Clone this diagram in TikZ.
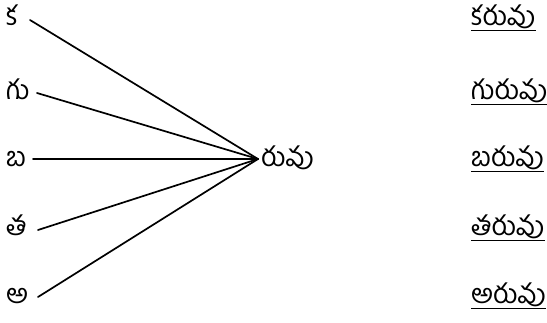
\documentclass[tikz,border=0pt]{standalone}
\usepackage{fontspec}
\newfontfamily\telugu[Script=Telugu]{Hind Guntur}
\begin{document}
\begin{tikzpicture}[x=1pt,y=-1pt,
  lab/.style={font=\telugu\fontsize{27}{30}\selectfont, inner sep=0pt, anchor=base west},
  conn/.style={line width=1.7pt, line cap=round},
  uline/.style={line width=0.9pt}]
\useasboundingbox (0,0) rectangle (547,323);
\node[lab] (k) at (6,26) {క};
\node[lab] (g) at (6,100) {గు};
\node[lab] (b) at (6,167) {బ};
\node[lab] (t) at (6,236) {త};
\node[lab] (a) at (6,304) {అ};
\coordinate (c) at (258,159);
\node[lab] (r) at (261,167) {రువు};
\coordinate (k1) at (30,20);
\coordinate (g1) at (37,93);
\coordinate (b1) at (33,159);
\coordinate (t1) at (38,230);
\coordinate (a1) at (38,297);
\draw[conn] (k1) -- (c);
\draw[conn] (g1) -- (c);
\draw[conn] (b1) -- (c);
\draw[conn] (t1) -- (c);
\draw[conn] (a1) -- (c);
\node[lab] (w1) at (471,26) {కరువు};
\node[lab] (w2) at (471,100) {గురువు};
\node[lab] (w3) at (471,167) {బరువు};
\node[lab] (w4) at (471,236) {తరువు};
\node[lab] (w5) at (471,304) {అరువు};
\foreach \w in {w1,w2,w3,w4,w5}
  \draw[uline] ([yshift=-4pt]\w.base west) -- ([yshift=-4pt]\w.base east);
\end{tikzpicture}
\end{document}
